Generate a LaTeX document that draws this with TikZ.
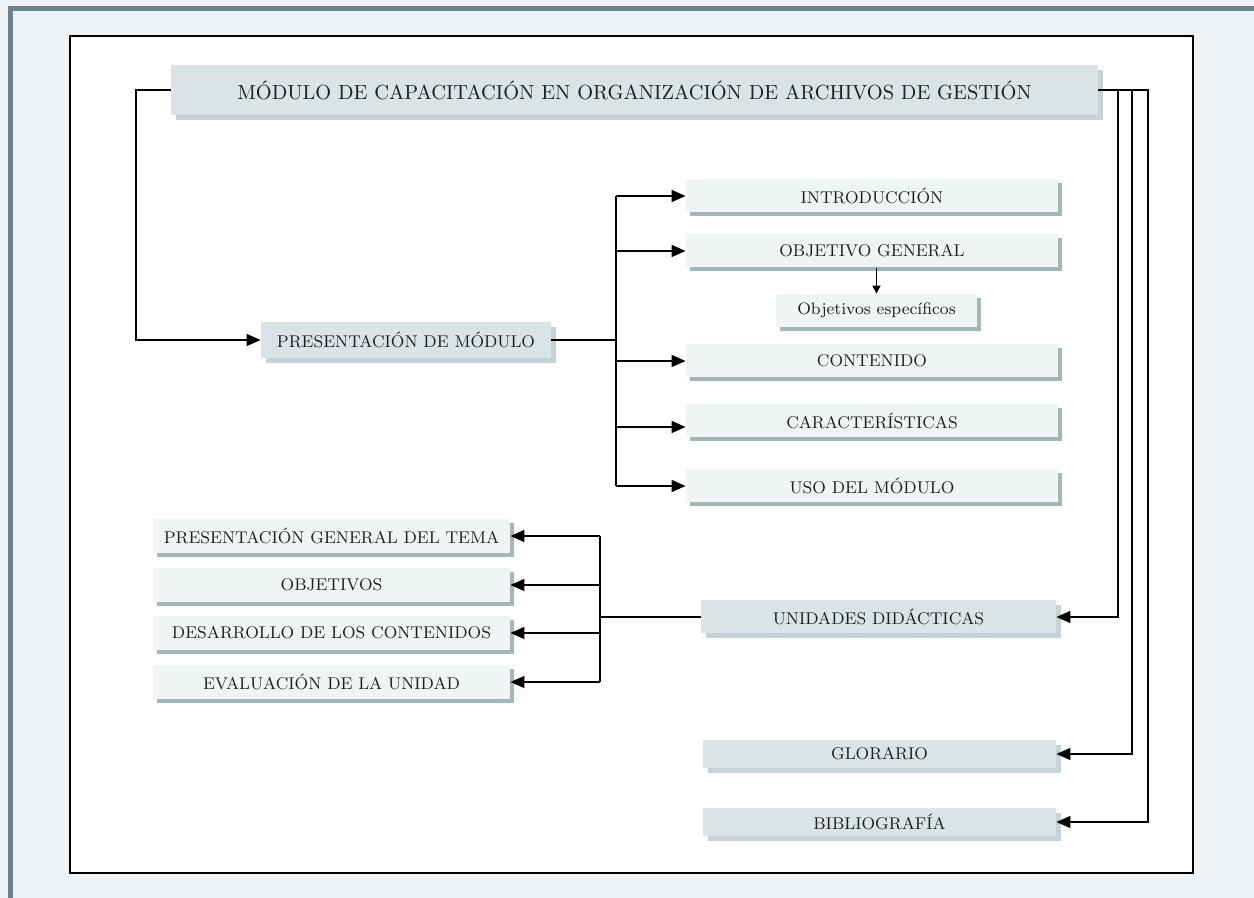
\documentclass[tikz,border=0pt]{standalone}
\usetikzlibrary{arrows.meta,shadows}
\definecolor{fondo}{HTML}{EFF3F6}
\definecolor{borde}{HTML}{6B8388}
\definecolor{cajaosc}{HTML}{DAE3E5}
\definecolor{sombraosc}{HTML}{C5D3D6}
\definecolor{cajacla}{HTML}{EFF4F5}
\definecolor{sombracla}{HTML}{A3B6B8}
\definecolor{texto}{HTML}{1E1E1E}
\begin{document}
\begin{tikzpicture}[x=0.5pt,y=-0.5pt,font=\fontsize{8.5}{10}\selectfont,
  caja/.style={fill=cajaosc,inner sep=0pt,text=texto,
    drop shadow={shadow xshift=2.5pt,shadow yshift=-2.5pt,fill=sombraosc,opacity=1}},
  subcaja/.style={fill=cajacla,inner sep=0pt,text=texto,
    drop shadow={shadow xshift=2pt,shadow yshift=-2pt,fill=sombracla,opacity=1}},
  linea/.style={line width=0.75pt},
  flecha/.style={line width=0.75pt,-{Triangle[length=7pt,width=6pt]}}]

\useasboundingbox (0,0) rectangle (1254,898);
\fill[fondo] (0,0) rectangle (1254,898);
\fill[borde] (8,6) rectangle (1254,11);
\fill[borde] (8,6) rectangle (13,898);
\draw[line width=0.8pt,fill=white] (70,36) rectangle (1193,873);

\node[caja,minimum width=463.5pt,minimum height=25pt,font=\fontsize{10.2}{12}\selectfont] (mod) at (634.5,90) {MÓDULO DE CAPACITACIÓN EN ORGANIZACIÓN DE ARCHIVOS DE GESTIÓN};
\node[caja,minimum width=145pt,minimum height=18pt] (pres) at (406,340) {PRESENTACIÓN DE MÓDULO};

\node[subcaja,minimum width=186pt,minimum height=16.5pt] (intro) at (872,196) {INTRODUCCIÓN};
\node[subcaja,minimum width=186pt,minimum height=16.5pt] (obj) at (872,251) {OBJETIVO GENERAL};
\node[subcaja,minimum width=100.5pt,minimum height=16.5pt,font=\fontsize{8.3}{10}\selectfont] (objesp) at (876.5,310.5) {Objetivos específicos};
\node[subcaja,minimum width=186pt,minimum height=16.5pt] (cont) at (872,361) {CONTENIDO};
\node[subcaja,minimum width=186pt,minimum height=16.5pt] (carac) at (872,421) {CARACTERÍSTICAS};
\node[subcaja,minimum width=186pt,minimum height=16.5pt] (uso) at (872,486) {USO DEL MÓDULO};

\node[subcaja,minimum width=178.5pt,minimum height=17pt] (tema) at (331.5,536) {PRESENTACIÓN GENERAL DEL TEMA};
\node[subcaja,minimum width=178.5pt,minimum height=17pt] (objs) at (331.5,585) {OBJETIVOS};
\node[subcaja,minimum width=178.5pt,minimum height=17pt] (desa) at (331.5,633) {DESARROLLO DE LOS CONTENIDOS};
\node[subcaja,minimum width=178.5pt,minimum height=17pt] (eval) at (331.5,682) {EVALUACIÓN DE LA UNIDAD};

\node[caja,minimum width=177.5pt,minimum height=16.5pt] (unid) at (878.5,617) {UNIDADES DIDÁCTICAS};
\node[caja,minimum width=176.5pt,minimum height=14pt] (glo) at (879.5,754) {GLORARIO};
\node[caja,minimum width=176.5pt,minimum height=14pt] (bib) at (879.5,822) {BIBLIOGRAFÍA};

\coordinate (a) at (136,340);
\coordinate (b) at (616,340);
\coordinate (c) at ([yshift=-3pt]carac.west);
\coordinate (d) at (600,617);
\coordinate (r1) at (1118,90);
\coordinate (r2) at (1132,90);
\coordinate (r3) at (1148,90);

\draw[flecha] (mod.west) -| (a) -- (pres.west);
\draw[linea] (pres.east) -- (b);
\draw[linea] (b |- intro.west) -- (b |- uso.west);
\foreach \n in {intro,obj,cont,uso}
  \draw[flecha] (b |- \n.west) -- (\n.west);
\draw[flecha] (b |- c) -- (c);
\draw[line width=0.75pt,-{Triangle[length=4pt,width=4pt]}] (objesp.north |- obj.south) -- (objesp.north);

\draw[linea] (unid.west) -- (d);
\draw[linea] (d |- tema.east) -- (d |- eval.east);
\foreach \n in {tema,objs,desa,eval}
  \draw[flecha] (d |- \n.east) -- (\n.east);

\draw[flecha] (mod.east) -- (r1) |- (unid.east);
\draw[flecha] (mod.east) -- (r2) |- (glo.east);
\draw[flecha] (mod.east) -- (r3) |- (bib.east);

\end{tikzpicture}
\end{document}
